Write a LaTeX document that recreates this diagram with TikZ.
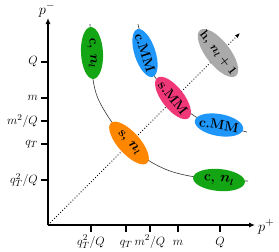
\documentclass[tikz,border=0pt]{standalone}
\usetikzlibrary{shapes.geometric,arrows.meta}
\definecolor{cgreen}{RGB}{20,165,20}
\definecolor{cblue}{RGB}{30,150,250}
\definecolor{cpink}{RGB}{240,55,120}
\definecolor{corange}{RGB}{255,135,0}
\definecolor{cgray}{RGB}{170,170,170}
\begin{document}
\begin{tikzpicture}[x=1pt,y=-1pt,
  region/.style={ellipse, inner sep=0pt, draw=none},
  rtext/.style={inner sep=0pt, font=\fontsize{13.5}{15}\selectfont\bfseries\boldmath},
  axis/.style={line width=1.1pt,-{Latex[length=6pt,width=5pt]}},
  tickmark/.style={line width=1.1pt},
  lab/.style={inner sep=0pt, font=\fontsize{13}{15}\selectfont},
  axlab/.style={inner sep=0pt, font=\fontsize{15}{17}\selectfont},
  curve/.style={line width=0.6pt, black!80}]
\useasboundingbox (0,0) rectangle (279,252);
% axes
\coordinate (O) at (48,225);
\coordinate (ytop) at (48,18);
\coordinate (xend) at (255,225);
\coordinate (dend) at (240,33);
\draw[line width=0.9pt, dotted, -{Latex[length=5pt,width=4pt]}] (O) -- (dend);
% curves
\coordinate (t1) at (90,24);
\coordinate (e1) at (248,181);
\coordinate (t2) at (138,24);
\coordinate (e2) at (247,132);
\draw[curve] plot[smooth, tension=0.55] coordinates {(t1) (91,50) (93,79) (97,96) (104,110) (114,125) (129,143) (148,160) (170,171) (195,177) (219,180) (e1)};
\draw[curve] plot[smooth, tension=0.55] coordinates {(t2) (145,53) (155,77) (172,97) (196,117) (219,125) (e2)};
% regions
\node[region, fill=cgreen, rotate=-87, minimum width=52, minimum height=22] (g1) at (92,53) {};
\node[rtext, rotate=-87] (g1t) at (g1) {c, $n_l$};
\node[region, fill=cblue, rotate=-72, minimum width=50, minimum height=21] (b1) at (145,53) {};
\node[rtext, rotate=-72] (b1t) at (b1) {c.MM};
\node[region, fill=cgray, rotate=-52, minimum width=58, minimum height=24] (h1) at (218,53) {};
\node[rtext, rotate=-52, font=\fontsize{12.5}{14}\selectfont\bfseries\boldmath] (h1t) at (h1) {h, $n_l+1$};
\node[region, fill=cpink, rotate=-52, minimum width=51, minimum height=22] (p1) at (173,98) {};
\node[rtext, rotate=-52] (p1t) at (p1) {s.MM};
\node[region, fill=corange, rotate=-48, minimum width=54, minimum height=22] (o1) at (129,143) {};
\node[rtext, rotate=-48] (o1t) at (o1) {s, $n_l$};
\node[region, fill=cblue, rotate=-10, minimum width=49, minimum height=22] (b2) at (219,125) {};
\node[rtext, rotate=-10] (b2t) at (b2) {c.MM};
\node[region, fill=cgreen, rotate=-5, minimum width=52, minimum height=22] (g2) at (219,180) {};
\node[rtext, rotate=-5] (g2t) at (g2) {c, $n_l$};
% axes on top
\draw[axis] (O) -- (ytop);
\draw[axis] (O) -- (xend);
\node[axlab, anchor=base] (pm) at (47,14) {$p^-$};
\node[axlab, anchor=base west] (pp) at (258,231) {$p^+$};
% y ticks
\foreach \y/\t/\n in {62/{Q}/yQ, 98/{m}/ym, 121/{m^2/Q}/ymm, 144/{q_T}/yq, 180/{q_T^2/Q}/yqq}{
  \coordinate (\n) at (48,\y);
  \draw[tickmark] (\n) -- ++(-7,0);
  \node[lab, anchor=east] at (38,\y) {$\t$};
}
% x ticks
\foreach \x/\t/\n in {91/{q_T^2/Q}/xqq, 126/{q_T}/xq, 150/{m^2/Q}/xmm, 178/{m}/xm, 220/{Q}/xQ}{
  \coordinate (\n) at (\x,225);
  \draw[tickmark] (\n) -- ++(0,7);
  \node[lab, anchor=base] at (\x,245) {$\t$};
}
\end{tikzpicture}
\end{document}
